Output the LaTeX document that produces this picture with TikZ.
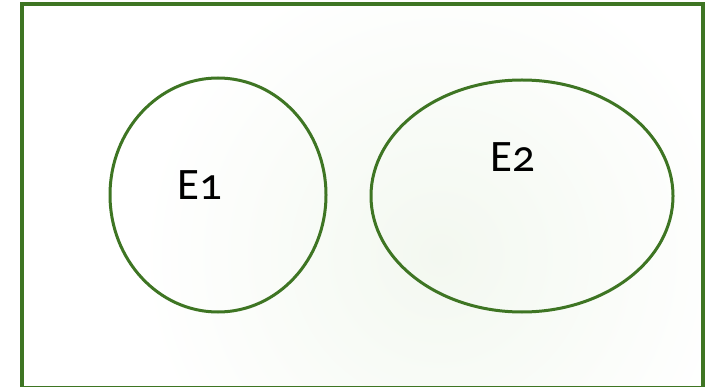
\documentclass[tikz,border=0pt]{standalone}
\usepackage{fontspec}
\setmainfont{Carlito}[Numbers=OldStyle]
\usetikzlibrary{shapes.geometric}

\definecolor{setgreen}{RGB}{62,117,35}
\definecolor{haze}{RGB}{243,248,240}

\tikzset{
	venn/.style = {
		x = 1pt,
		y = -1pt,
		frame/.style = {
			draw = setgreen,
			line width = 4pt
		}
	},
	setnode/.style = {
		ellipse,
		draw = setgreen,
		line width = 3pt,
		inner sep = 0pt
	},
	setlabel/.style = {
		font = \fontsize{45}{54}\selectfont,
		text = black,
		inner sep = 0pt
	}
}

\begin{document}
\begin{tikzpicture}[venn]
	\useasboundingbox (0,0) rectangle (706,387);

	% sample space with a faint wash of green
	\begin{scope}
		\clip (21.5,4.5) rectangle (702.5,387.5);
		\shade[inner color = haze, outer color = white] (440,255) circle (300);
	\end{scope}
	\draw[frame] (21.5,4.5) rectangle (702.5,387.5);

	% the two events
	\node[setnode, minimum width = 216pt, minimum height = 234pt] (E1) at (218,195) {};
	\node[setnode, minimum width = 302pt, minimum height = 232pt] (E2) at (522,196) {};

	\node[setlabel] (E1label) at (200,185) {E1};
	\node[setlabel] (E2label) at (513,157) {E2};
\end{tikzpicture}
\end{document}
